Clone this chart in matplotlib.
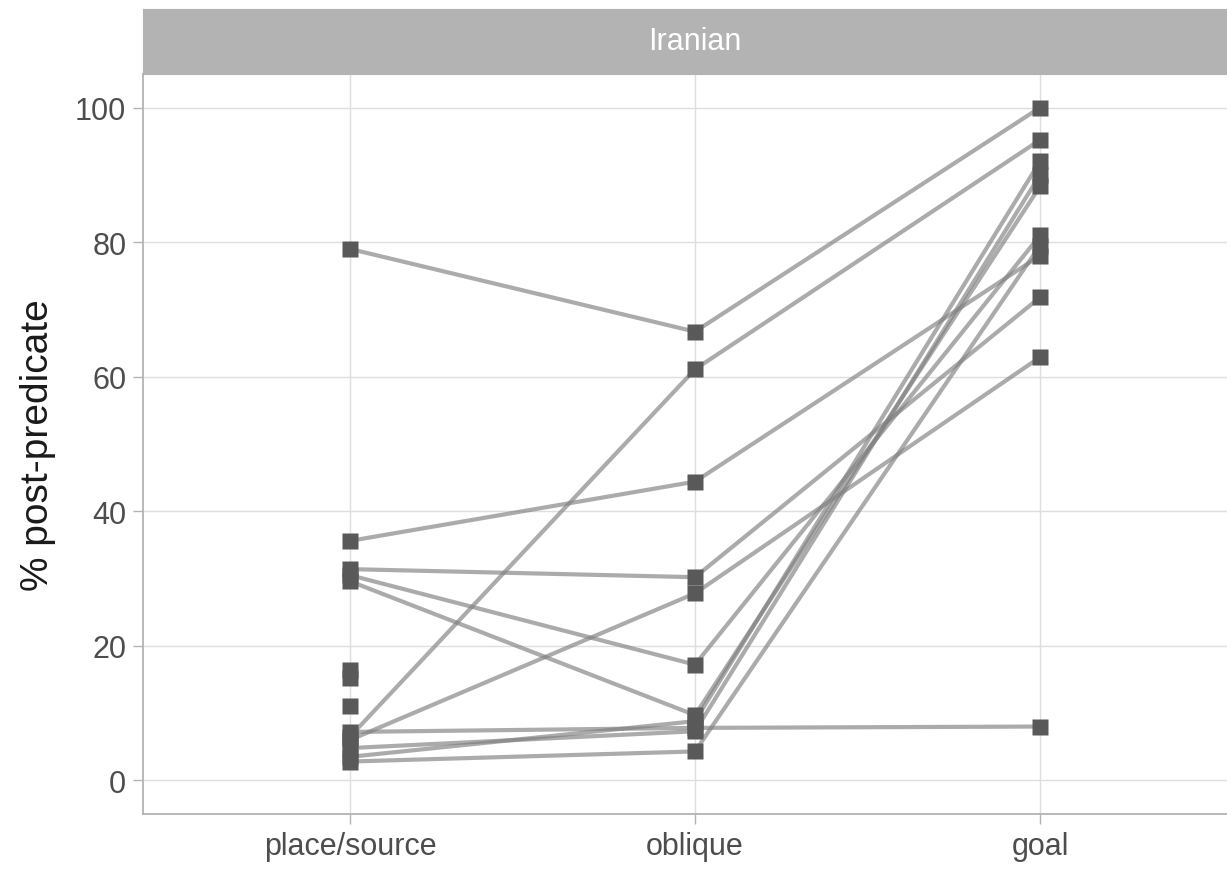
import numpy as np
import matplotlib.pyplot as plt

plt.rcParams['font.family'] = ['Liberation Sans', 'DejaVu Sans']

categories = ["place/source", "oblique", "goal"]

# one row per speaker: place/source, oblique, goal (% post-predicate)
place_source = [79.0, 6.5, 35.6, 31.4, 6.0, 30.5, 29.6, 7.2, 3.5, 2.8, 4.8, 16.4, 15.2, 11.1]
oblique = [66.7, 61.1, 44.4, 30.2, 27.8, 17.2, 9.7, 7.8, 8.8, 4.3, 7.3, np.nan, np.nan, np.nan]
goal = [100.0, 95.2, 78.0, 71.8, 62.9, 81.0, 88.3, 8.0, 92.0, 79.5, 90.0, np.nan, np.nan, np.nan]

panel_title = "Iranian"

W, H = 1227, 870
fig = plt.figure(figsize=(W / 100, H / 100), dpi=100)

left, right = 143 / W, 1247 / W
bottom, top = (H - 815) / H, (H - 75) / H
ax = fig.add_axes([left, bottom, right - left, top - bottom])

x = np.arange(1, len(categories) + 1)
vals = np.array([place_source, oblique, goal]).T

for row in vals:
    ax.plot(x, row, color="#7f7f7f", alpha=0.65, lw=3.0, solid_capstyle="butt", zorder=2)
for row in vals:
    ax.plot(x, row, ls="none", marker="s", ms=12, color="#595959", mec="none", zorder=3)

ax.set_xlim(0.4, 3.6)
ax.set_ylim(-5, 105)
ax.set_xticks(x)
ax.set_xticklabels(categories)
ax.set_yticks([0, 20, 40, 60, 80, 100])
ax.grid(True, color="#dedede", lw=1.0, zorder=0)
ax.set_axisbelow(True)
for s in ax.spines.values():
    s.set_color("#b3b3b3")
    s.set_linewidth(1.3)
ax.tick_params(axis="both", colors="#b3b3b3", length=7, width=1.0, labelsize=22,
               labelcolor="#4d4d4d", pad=5)
ax.set_ylabel("% post-predicate", fontsize=28, color="#1a1a1a", labelpad=14)

# facet strip
sax = fig.add_axes([left, (H - 75) / H, right - left, 65 / H])
sax.set_facecolor("#b3b3b3")
sax.set_xticks([])
sax.set_yticks([])
for s in sax.spines.values():
    s.set_color("#b3b3b3")
sax.text(0.5, 0.5, panel_title, ha="center", va="center", color="white",
         fontsize=22, transform=sax.transAxes)

fig.savefig("out.png", dpi=100)
